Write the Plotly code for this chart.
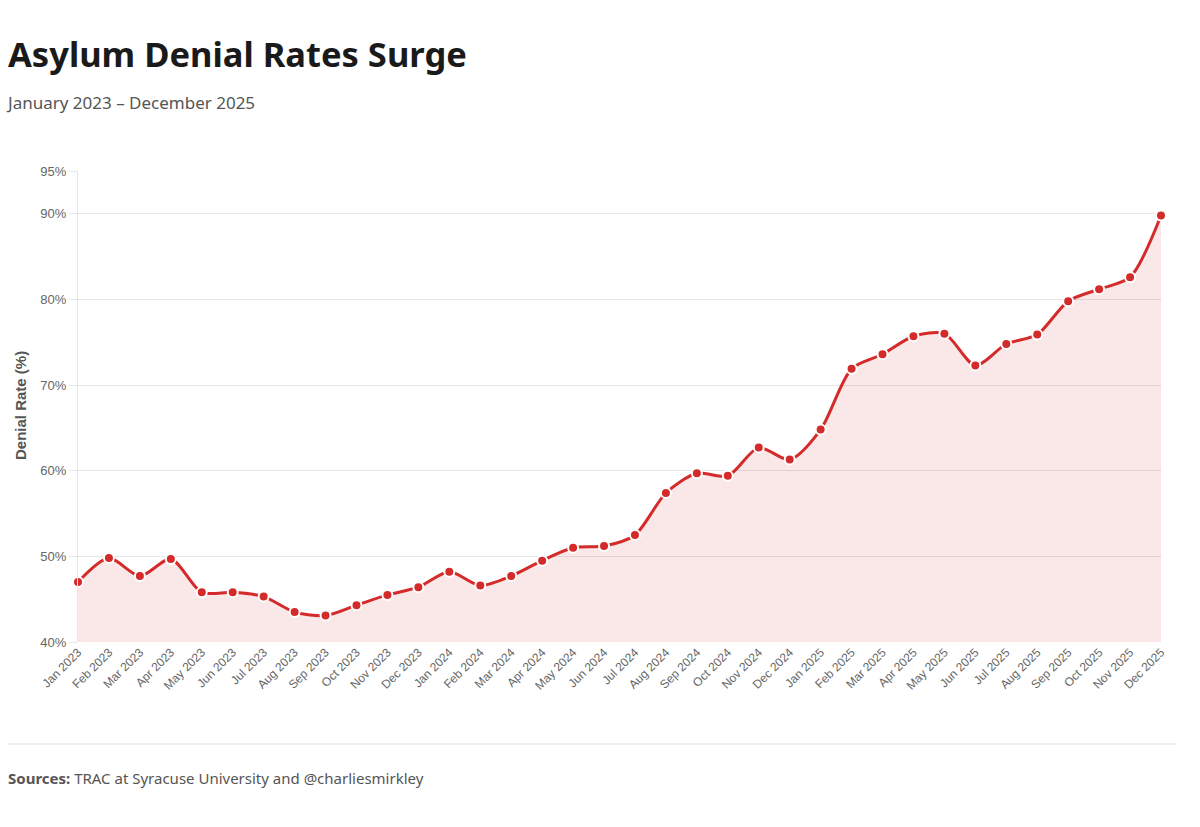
import plotly.graph_objects as go

months = ["Jan 2023", "Feb 2023", "Mar 2023", "Apr 2023", "May 2023", "Jun 2023",
          "Jul 2023", "Aug 2023", "Sep 2023", "Oct 2023", "Nov 2023", "Dec 2023",
          "Jan 2024", "Feb 2024", "Mar 2024", "Apr 2024", "May 2024", "Jun 2024",
          "Jul 2024", "Aug 2024", "Sep 2024", "Oct 2024", "Nov 2024", "Dec 2024",
          "Jan 2025", "Feb 2025", "Mar 2025", "Apr 2025", "May 2025", "Jun 2025",
          "Jul 2025", "Aug 2025", "Sep 2025", "Oct 2025", "Nov 2025", "Dec 2025"]
denial_rate = [47.0, 49.8, 47.7, 49.7, 45.8, 45.8, 45.3, 43.5, 43.1, 44.3, 45.5, 46.4,
               48.2, 46.6, 47.7, 49.5, 51.0, 51.2, 52.5, 57.4, 59.7, 59.4, 62.7, 61.3,
               64.8, 71.9, 73.6, 75.7, 76.0, 72.3, 74.8, 75.9, 79.8, 81.2, 82.6, 89.8]
y_ticks = [40, 50, 60, 70, 80, 90, 95]
y_tick_labels = ["40%", "50%", "60%", "70%", "80%", "90%", "95%"]

RED = "#d42a2a"
W, H = 1200, 827
L, R, T, B = 78, 39, 171, 185
PW, PH = W - L - R, H - T - B


def px_x(x):
    return (x - L) / PW


def px_y(y):
    return (H - B - y) / PH


fig = go.Figure()
fig.add_trace(go.Scatter(
    x=months, y=denial_rate,
    mode="lines+markers",
    line=dict(color=RED, width=3, shape="spline", smoothing=0.8),
    marker=dict(size=10, color=RED, line=dict(color="white", width=2)),
    fill="tozeroy",
    fillcolor="rgba(214,42,42,0.11)",
    cliponaxis=False,
    hovertemplate="%{x}: %{y:.1f}%<extra></extra>",
))

fig.update_layout(
    width=W, height=H,
    margin=dict(l=L, r=R, t=T, b=B),
    paper_bgcolor="white", plot_bgcolor="white",
    showlegend=False,
    title=dict(
        text="<b>Asylum Denial Rates Surge</b>",
        x=8 / W, xanchor="left", xref="container",
        y=1 - 55 / H, yanchor="middle", yref="container",
        font=dict(family="Noto Sans, Open Sans, sans-serif", size=34.5, color="#1a1a1a"),
    ),
    xaxis=dict(
        type="category", range=[0, len(months) - 1],
        showgrid=False, zeroline=False, showline=False,
        tickangle=-45,
        tickfont=dict(family="Liberation Sans, Arial, sans-serif", size=12, color="#666"),
        ticks="",
    ),
    yaxis=dict(
        range=[40, 95],
        tickvals=y_ticks, ticktext=y_tick_labels,
        showgrid=True, gridcolor="#e6e6e6", gridwidth=1,
        zeroline=False,
        showline=True, linecolor="#e6e6e6", linewidth=1,
        ticks="outside", ticklen=8, tickcolor="#e6e6e6",
        tickfont=dict(family="Liberation Sans, Arial, sans-serif", size=13, color="#666"),
    ),
    annotations=[
        dict(text="January 2023 – December 2025",
             xref="paper", yref="paper", x=px_x(4), y=px_y(102),
             xanchor="left", yanchor="middle", showarrow=False,
             font=dict(family="Noto Sans, Open Sans, sans-serif", size=17, color="#555")),
        dict(text="<b>Denial Rate (%)</b>", textangle=-90,
             xref="paper", yref="paper", x=px_x(20), y=px_y(406),
             xanchor="center", yanchor="middle", showarrow=False,
             font=dict(family="Liberation Sans, Arial, sans-serif", size=15, color="#555")),
        dict(text="<b>Sources:</b> TRAC at Syracuse University and @charliesmirkley",
             xref="paper", yref="paper", x=px_x(6), y=px_y(778),
             xanchor="left", yanchor="middle", showarrow=False,
             font=dict(family="Noto Sans, Open Sans, sans-serif", size=15, color="#555")),
    ],
    shapes=[
        dict(type="line", xref="paper", yref="paper",
             x0=px_x(8), x1=px_x(1176), y0=px_y(744), y1=px_y(744),
             line=dict(color="#dddddd", width=1)),
    ],
)

fig.write_html("out.html")
